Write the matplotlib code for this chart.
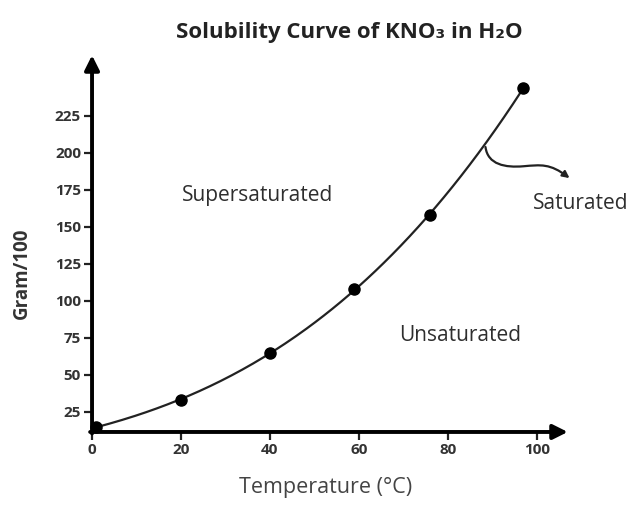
import numpy as np
import matplotlib.pyplot as plt
from matplotlib.patches import FancyArrowPatch
from matplotlib.path import Path

plt.rcParams['font.family'] = ['Open Sans', 'DejaVu Sans']

# data
temps = [1, 20, 40, 59, 76, 97]
grams = [15, 33, 65, 108, 158, 244]
xticks = [0, 20, 40, 60, 80, 100]
yticks = [25, 50, 75, 100, 125, 150, 175, 200, 225]

fig = plt.figure(figsize=(6.36, 5.05), dpi=100)
ax = fig.add_axes([0.1447, 0.1446, 0.748, 0.746])
ax.set_xlim(0, 107)
ax.set_ylim(11.5, 266)

# smooth curve through the points
coef = np.polyfit(temps, grams, 3)
xs = np.linspace(temps[0], temps[-1], 200)
ax.plot(xs, np.polyval(coef, xs), color='#222222', lw=1.6, zorder=3)
ax.plot(temps, grams, 'o', color='black', ms=8, zorder=4, clip_on=False)

for s in ['top', 'right', 'left', 'bottom']:
    ax.spines[s].set_visible(False)

# axes drawn as arrows
ax.annotate('', xy=(1.0, 0), xytext=(-0.004, 0), xycoords='axes fraction',
            arrowprops=dict(arrowstyle='-|>', lw=2.8, color='black', mutation_scale=22,
                            shrinkA=0, shrinkB=0))
ax.annotate('', xy=(0, 1.0), xytext=(0, -0.004), xycoords='axes fraction',
            arrowprops=dict(arrowstyle='-|>', lw=2.8, color='black', mutation_scale=22,
                            shrinkA=0, shrinkB=0))

ax.set_xticks(xticks)
ax.set_yticks(yticks)
ax.tick_params(axis='both', direction='out', length=6, width=1.6, color='#222222',
               labelsize=11, labelcolor='#333333')
ax.tick_params(axis='x', pad=2)
ax.tick_params(axis='y', pad=2)
for lab in ax.get_xticklabels() + ax.get_yticklabels():
    lab.set_fontweight('bold')

ax.set_xlabel('Temperature (°C)', fontsize=15.5, color='#444444')
ax.xaxis.set_label_coords(0.49, -0.12)
ax.set_ylabel('Gram/100', fontsize=13.5, fontweight='bold', color='#333333')
ax.yaxis.set_label_coords(-0.126, 0.42)

fig.text(0.55, 0.935, 'Solubility Curve of KNO₃ in H₂O', ha='center', va='center',
         fontsize=16, fontweight='bold', color='#222222')

ax.text(37.2, 171.5, 'Supersaturated', ha='center', va='center', fontsize=15, color='#2e2e2e')
ax.text(82.8, 77, 'Unsaturated', ha='center', va='center', fontsize=15, color='#2e2e2e')
ax.text(109.9, 166, 'Saturated', ha='center', va='center', fontsize=15, color='#2e2e2e',
        clip_on=False)

# wavy pointer from the curve to the "Saturated" label
verts = [(88.5, 204), (89, 192), (93, 190), (97, 191),
         (101, 192), (103, 193), (107.4, 183)]
codes = [Path.MOVETO] + [Path.CURVE4] * 6
arr = FancyArrowPatch(path=Path(verts, codes), arrowstyle='-|>', mutation_scale=10,
                      lw=1.6, color='#222222', clip_on=False)
ax.add_patch(arr)

fig.savefig('out.png', dpi=100)
